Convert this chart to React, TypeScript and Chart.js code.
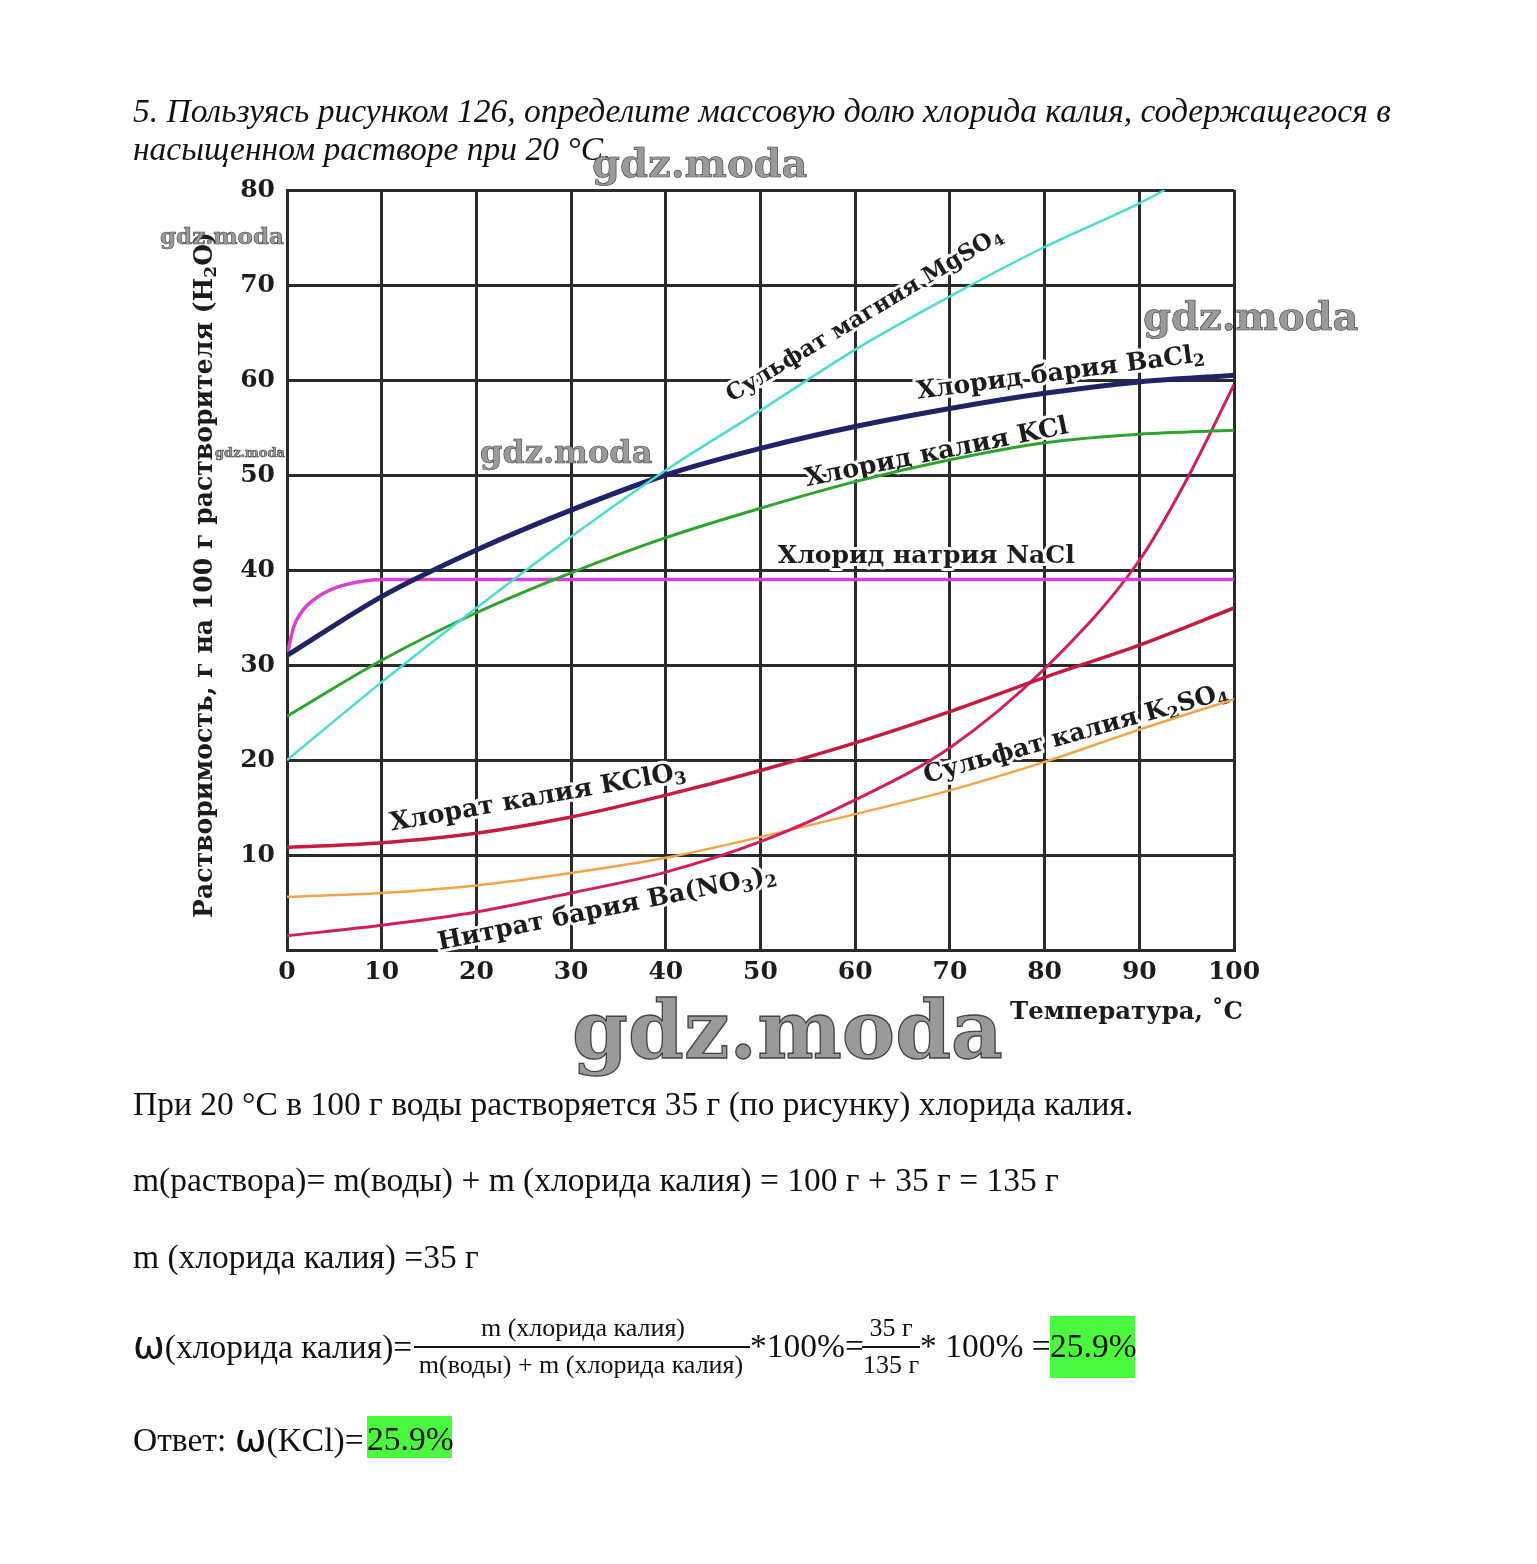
import React, { useEffect, useRef } from "react";
import { Chart, registerables } from "chart.js";

Chart.register(...registerables);

// ---------- data ----------
const temps = [0, 10, 20, 30, 40, 50, 60, 70, 80, 90, 100];
const xTicks = [0, 10, 20, 30, 40, 50, 60, 70, 80, 90, 100];
const yTicks = [10, 20, 30, 40, 50, 60, 70, 80];

const mgso4Temps = [0, 10, 20, 30, 40, 50, 60, 70, 80, 90, 92.7];
const mgso4Values = [20, 28.2, 36, 43.5, 50.5, 56.8, 63.2, 68.8, 74, 78.6, 80];

const bacl2Values = [31, 37.2, 42.1, 46.3, 50, 52.8, 55.1, 57, 58.6, 59.8, 60.5];

const kclValues = [24.6, 30.5, 35.5, 39.7, 43.4, 46.5, 49.3, 51.6, 53.4, 54.3, 54.7];

const naclTemps = [0, 0.7, 1.7, 3.3, 5.3, 7.8, 10, 20, 30, 40, 50, 60, 70, 80, 90, 100];
const naclValues = [31, 34, 35.8, 37.2, 38.2, 38.8, 39, 39, 39, 39, 39, 39, 39, 39, 39, 39];

const kclo3Values = [10.8, 11.3, 12.3, 14.0, 16.3, 18.9, 21.8, 25.1, 28.7, 32.1, 36];

const k2so4Values = [5.6, 6.0, 6.8, 8.1, 9.7, 11.9, 14.3, 16.8, 19.8, 23.2, 26.4];

const banoTemps = [0, 10, 20, 30, 40, 50, 60, 70, 80, 90, 95, 100];
const banoValues = [1.5, 2.6, 4.0, 6.0, 8.2, 11.4, 15.8, 21.3, 29.6, 41.0, 49.5, 59.5];

// ---------- annotation config ----------
type Part = [string, boolean];
const curveLabels: { parts: Part[]; x: number; y: number; angle: number; width: number }[] = [
  { parts: [["Сульфат магния MgSO", false], ["4", true]], x: 61.0, y: 66.8, angle: -31, width: 318 },
  { parts: [["Хлорид бария BaCl", false], ["2", true]], x: 81.7, y: 60.7, angle: -7.5, width: 290 },
  { parts: [["Хлорид калия KCl", false]], x: 68.6, y: 52.3, angle: -11.5, width: 268 },
  { parts: [["Хлорид натрия NaCl", false]], x: 67.5, y: 41.4, angle: 0, width: 297 },
  { parts: [["Хлорат калия KClO", false], ["3", true]], x: 26.5, y: 16.0, angle: -10, width: 300 },
  { parts: [["Нитрат бария Ba(NO", false], ["3", true], [")", false], ["2", true]], x: 33.8, y: 4.3, angle: -11.5, width: 345 },
  { parts: [["Сульфат калия K", false], ["2", true], ["SO", false], ["4", true]], x: 83.3, y: 22.7, angle: -15.6, width: 315 },
];

const watermarks = [
  { x: 592, baseline: 177, size: 40 },
  { x: 160, baseline: 243, size: 23 },
  { x: 1143, baseline: 330, size: 40 },
  { x: 480, baseline: 463, size: 32 },
  { x: 215, baseline: 457, size: 13 },
  { x: 572, baseline: 1058, size: 80 },
];

const chartFont = '"DejaVu Serif", serif';
const ink = "#1c1c1c";
const gridColor = "#2a2a2a";

function drawRich(
  ctx: CanvasRenderingContext2D,
  parts: Part[],
  cx: number,
  cy: number,
  angle: number,
  targetWidth: number,
  halo: boolean
) {
  const fontFor = (s: number, sub: boolean) => `bold ${sub ? s * 0.68 : s}px ${chartFont}`;
  const measure = (s: number) => {
    let w = 0;
    for (const [t, sub] of parts) {
      ctx.font = fontFor(s, sub);
      w += ctx.measureText(t).width;
    }
    return w;
  };
  const size = (20 * targetWidth) / measure(20);
  const total = measure(size);
  ctx.save();
  ctx.translate(cx, cy);
  ctx.rotate((angle * Math.PI) / 180);
  ctx.textBaseline = "middle";
  ctx.textAlign = "left";
  const passes = halo ? ["stroke", "fill"] : ["fill"];
  for (const pass of passes) {
    let x = -total / 2;
    for (const [t, sub] of parts) {
      ctx.font = fontFor(size, sub);
      const dy = sub ? size * 0.26 : 0;
      if (pass === "stroke") {
        ctx.strokeStyle = "#ffffff";
        ctx.lineWidth = 6;
        ctx.lineJoin = "round";
        ctx.strokeText(t, x, dy);
      } else {
        ctx.fillStyle = ink;
        ctx.fillText(t, x, dy);
      }
      x += ctx.measureText(t).width;
    }
  }
  ctx.restore();
}

const labelPlugin = {
  id: "curveLabels",
  beforeDatasetsDraw(chart: any) {
    const { ctx, scales } = chart;
    for (const l of curveLabels) {
      drawRich(ctx, l.parts, scales.x.getPixelForValue(l.x), scales.y.getPixelForValue(l.y), l.angle, l.width, true);
    }
  },
  afterDraw(chart: any) {
    const { ctx, chartArea } = chart;
    drawRich(
      ctx,
      [["Растворимость, г на 100 г растворителя (H", false], ["2", true], ["O)", false]],
      chartArea.left - 82,
      (chartArea.top + chartArea.bottom) / 2 + 5,
      -90,
      686,
      false
    );
    drawRich(ctx, [["Температура, ˚C", false]], chartArea.right + 9 - 233 / 2, chartArea.bottom + 63, 0, 233, false);
  },
};

const pageSerif = '"Liberation Serif", "Times New Roman", serif';

function Txt(props: {
  x: number;
  baseline: number;
  size: number;
  italic?: boolean;
  family?: string;
  center?: boolean;
  children: React.ReactNode;
}) {
  const { x, baseline, size, italic, family, center, children } = props;
  const asc = 0.891;
  const desc = 0.216;
  const top = baseline - ((size - (asc + desc) * size) / 2 + asc * size);
  return (
    <div
      style={{
        position: "absolute",
        left: x,
        top,
        fontSize: size,
        lineHeight: `${size}px`,
        fontFamily: family || pageSerif,
        fontStyle: italic ? "italic" : "normal",
        whiteSpace: "nowrap",
        color: "#111",
        transform: center ? "translateX(-50%)" : undefined,
        zIndex: 2,
      }}
    >
      {children}
    </div>
  );
}

const omega = <span style={{ fontFamily: '"DejaVu Sans", sans-serif', fontSize: 38 }}>ω</span>;

export default function App() {
  const canvasRef = useRef<HTMLCanvasElement | null>(null);

  useEffect(() => {
    document.body.style.margin = "0";
    const canvas = canvasRef.current;
    if (!canvas) return;
    const mk = (label: string, xs: number[], ys: number[], color: string, width: number) => ({
      label,
      data: xs.map((x, i) => ({ x, y: ys[i] })),
      borderColor: color,
      backgroundColor: color,
      borderWidth: width,
      pointRadius: 0,
      cubicInterpolationMode: "monotone" as const,
      fill: false,
    });
    const tickFont = { family: chartFont, weight: "bold" as const, size: 25 };
    const chart = new Chart(canvas, {
      type: "line",
      data: {
        datasets: [
          mk("MgSO4", mgso4Temps, mgso4Values, "#4adccc", 2.5),
          mk("BaCl2", temps, bacl2Values, "#222266", 5),
          mk("KCl", temps, kclValues, "#2fa32f", 3),
          mk("NaCl", naclTemps, naclValues, "#d543d3", 3.5),
          mk("KClO3", temps, kclo3Values, "#c41c3e", 3.5),
          mk("Ba(NO3)2", banoTemps, banoValues, "#cf1f60", 3),
          mk("K2SO4", temps, k2so4Values, "#f1a448", 2.5),
        ],
      },
      options: {
        responsive: false,
        animation: false,
        devicePixelRatio: 1,
        layout: { padding: { left: 167, top: 190, right: 303, bottom: 554 } },
        plugins: { legend: { display: false }, tooltip: { enabled: false }, title: { display: false } },
        scales: {
          x: {
            type: "linear",
            min: 0,
            max: 100,
            afterBuildTicks: (s: any) => {
              s.ticks = xTicks.map((v) => ({ value: v }));
            },
            afterFit: (s: any) => {
              s.height = 60;
            },
            ticks: { font: tickFont, color: ink, padding: 7, maxRotation: 0, autoSkip: false },
            grid: { color: gridColor, lineWidth: 3, drawTicks: false },
            border: { color: gridColor, width: 3 },
          },
          y: {
            type: "linear",
            min: 0,
            max: 80,
            afterBuildTicks: (s: any) => {
              s.ticks = [0, ...yTicks].map((v) => ({ value: v }));
            },
            afterFit: (s: any) => {
              s.width = 120;
            },
            ticks: {
              font: tickFont,
              color: ink,
              padding: 12,
              autoSkip: false,
              callback: (v: any) => (Number(v) === 0 ? "" : String(v)),
            },
            grid: { color: gridColor, lineWidth: 3, drawTicks: false },
            border: { color: gridColor, width: 3 },
          },
        },
      },
      plugins: [labelPlugin],
    } as any);
    return () => chart.destroy();
  }, []);

  const F = 33.5;
  const f = 26;

  return (
    <div style={{ position: "relative", width: 1537, height: 1564, overflow: "hidden", background: "#fff" }}>
      <canvas ref={canvasRef} width={1537} height={1564} style={{ position: "absolute", left: 0, top: 0, zIndex: 1 }} />

      <Txt x={133} baseline={122} size={33.5} italic>
        5. Пользуясь рисунком 126, определите массовую долю хлорида калия, содержащегося в
      </Txt>
      <Txt x={133} baseline={160} size={33.5} italic>
        насыщенном растворе при 20 °С.
      </Txt>

      <Txt x={133} baseline={1115} size={F}>
        При 20 °C в 100 г воды растворяется 35 г (по рисунку) хлорида калия.
      </Txt>
      <Txt x={133} baseline={1191} size={F}>
        m(раствора)= m(воды) + m (хлорида калия) = 100 г + 35 г = 135 г
      </Txt>
      <Txt x={133} baseline={1268} size={F}>
        m (хлорида калия) =35 г
      </Txt>

      <Txt x={133} baseline={1357} size={F}>
        {omega}(хлорида калия)=
      </Txt>
      <Txt x={583} baseline={1337} size={f} center>
        m (хлорида калия)
      </Txt>
      <div style={{ position: "absolute", left: 414, top: 1346, width: 336, height: 2, background: "#111", zIndex: 2 }} />
      <Txt x={581} baseline={1374} size={f} center>
        m(воды) + m (хлорида калия)
      </Txt>
      <Txt x={750} baseline={1357} size={F}>
        *100%=
      </Txt>
      <Txt x={891} baseline={1337} size={f} center>
        35 г
      </Txt>
      <div style={{ position: "absolute", left: 862, top: 1346, width: 58, height: 2, background: "#111", zIndex: 2 }} />
      <Txt x={891} baseline={1374} size={f} center>
        135 г
      </Txt>
      <Txt x={920} baseline={1357} size={F}>
        * 100% =
      </Txt>
      <div style={{ position: "absolute", left: 1050, top: 1316, width: 85, height: 62, background: "#4cf740", zIndex: 1 }} />
      <Txt x={1050} baseline={1357} size={F}>
        25.9%
      </Txt>

      <Txt x={133} baseline={1450} size={F}>
        Ответ: {omega}(KCl)=
      </Txt>
      <div style={{ position: "absolute", left: 367, top: 1416, width: 85, height: 42, background: "#4cf740", zIndex: 1 }} />
      <Txt x={367} baseline={1450} size={F}>
        25.9%
      </Txt>

      {watermarks.map((w, i) => (
        <div
          key={i}
          style={{
            position: "absolute",
            left: w.x,
            top: w.baseline - 0.846 * w.size,
            fontSize: w.size,
            lineHeight: `${w.size}px`,
            fontFamily: chartFont,
            fontWeight: "bold",
            color: "#9a9a9a",
            WebkitTextStroke: `${Math.max(0.6, w.size / 60)}px #444`,
            whiteSpace: "nowrap",
            zIndex: 3,
          }}
        >
          gdz.moda
        </div>
      ))}
    </div>
  );
}
